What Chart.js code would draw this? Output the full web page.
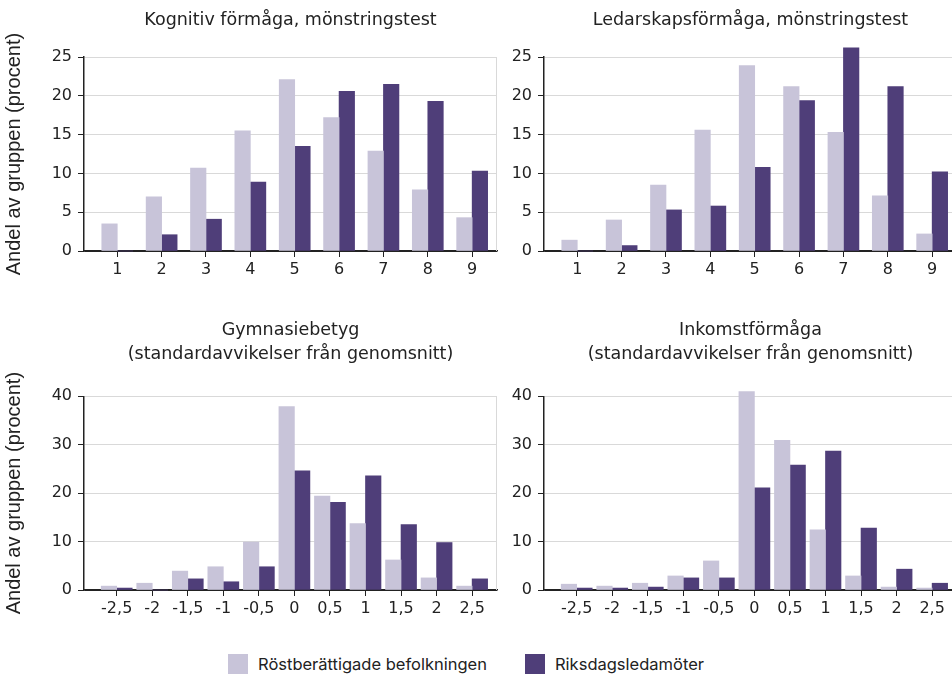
<!DOCTYPE html>
<html lang="sv">
<head>
  <meta charset="utf-8">
  <title>Riksdagsledamöter jämfört med befolkningen</title>
  <script src="https://cdn.jsdelivr.net/npm/chart.js"></script>
  <style>
    html, body {
      margin: 0;
      padding: 0;
      width: 952px;
      height: 676px;
      overflow: hidden;
      background: #fff;
    }
    .panel {
      position: absolute;
    }
    #legend {
      position: absolute;
      left: 228px;
      top: 654px;
      display: flex;
      gap: 38px;
      font: 16.5px Inter, sans-serif;
      color: #222;
      white-space: nowrap;
    }
    #legend .item {
      display: flex;
      align-items: center;
      gap: 10px;
      line-height: 20px;
    }
    #legend .swatch {
      width: 20px;
      height: 20px;
      display: inline-block;
    }
  </style>
</head>
<body>
  <div class="panel" style="left:0;top:0"><canvas id="kognitiv" width="500" height="290"></canvas></div>
  <div class="panel" style="left:460px;top:0"><canvas id="ledarskap" width="500" height="290"></canvas></div>
  <div class="panel" style="left:0;top:300px"><canvas id="gymnasie" width="500" height="330"></canvas></div>
  <div class="panel" style="left:460px;top:300px"><canvas id="inkomst" width="500" height="330"></canvas></div>
  <div id="legend"></div>
  <script>
    // kategorier på x-axeln
    const stanineCats = [1, 2, 3, 4, 5, 6, 7, 8, 9];
    const sdCats = [-2.5, -2, -1.5, -1, -0.5, 0, 0.5, 1, 1.5, 2, 2.5];

    const seriesNames = ['Röstberättigade befolkningen', 'Riksdagsledamöter'];
    const seriesColors = ['#c8c4d9', '#4f3e79'];

    // andel av gruppen (procent)
    const kognitivBef = [3.5, 7.0, 10.7, 15.5, 22.1, 17.2, 12.9, 7.9, 4.3];
    const kognitivRiks = [0, 2.1, 4.1, 8.9, 13.5, 20.6, 21.5, 19.3, 10.3];
    const ledarskapBef = [1.4, 4.0, 8.5, 15.6, 23.9, 21.2, 15.3, 7.1, 2.2];
    const ledarskapRiks = [0, 0.7, 5.3, 5.8, 10.8, 19.4, 26.2, 21.2, 10.2];
    const gymnasieBef = [0.8, 1.4, 3.9, 4.8, 9.9, 37.9, 19.4, 13.7, 6.2, 2.5, 0.8];
    const gymnasieRiks = [0.4, 0, 2.3, 1.7, 4.8, 24.6, 18.1, 23.6, 13.5, 9.8, 2.3];
    const inkomstBef = [1.2, 0.8, 1.4, 2.9, 6.0, 41.0, 30.9, 12.4, 2.9, 0.6, 0.4];
    const inkomstRiks = [0.4, 0.4, 0.6, 2.5, 2.5, 21.1, 25.8, 28.7, 12.8, 4.3, 1.4];

    const yTitle = 'Andel av gruppen (procent)';
    const ink = '#222';
    const gridGrey = '#d9d9d9';

    // tunn grå kant till höger om diagramytan
    const rightEdge = {
      id: 'rightEdge',
      beforeDatasetsDraw(chart) {
        const { ctx, chartArea } = chart;
        ctx.save();
        ctx.strokeStyle = gridGrey;
        ctx.lineWidth = 1;
        ctx.beginPath();
        ctx.moveTo(chartArea.right - 0.5, chartArea.top);
        ctx.lineTo(chartArea.right - 0.5, chartArea.bottom);
        ctx.stroke();
        ctx.restore();
      }
    };

    function drawPanel(id, title, cats, bef, riks, o) {
      const values = [bef, riks];
      new Chart(document.getElementById(id), {
        type: 'bar',
        data: {
          datasets: values.map((vals, k) => ({
            label: seriesNames[k],
            data: cats.map((c, i) => ({ x: c, y: vals[i] })),
            backgroundColor: seriesColors[k],
            barThickness: 15.5,
            clip: false
          }))
        },
        options: {
          responsive: false,
          animation: false,
          layout: { padding: { right: 3 } },
          plugins: {
            legend: { display: false },
            tooltip: { enabled: false },
            title: {
              display: true,
              text: title,
              fullSize: false,
              color: ink,
              font: { family: 'DejaVu Sans', size: 17.5, weight: 'normal', lineHeight: 1.38 },
              padding: { top: o.titleTop, bottom: o.titleBottom }
            }
          },
          scales: {
            x: {
              type: 'linear',
              min: o.xMin,
              max: o.xMax,
              offset: false,
              grid: { drawOnChartArea: false, offset: false, color: ink, tickColor: ink, tickLength: 6 },
              border: { color: ink, width: 1.5 },
              ticks: {
                stepSize: o.xStep,
                includeBounds: false,
                autoSkip: false,
                maxRotation: 0,
                padding: 3,
                color: ink,
                font: { family: 'DejaVu Sans', size: 16 },
                callback: v => String(v).replace('.', ',')
              },
              afterFit: s => { s.height = o.xHeight; }
            },
            y: {
              min: 0,
              max: o.yMax,
              grid: {
                color: c => (c.tick && c.tick.value === 0 ? ink : gridGrey),
                tickColor: ink,
                tickLength: 6
              },
              border: { color: ink, width: 1.5 },
              ticks: {
                stepSize: o.yStep,
                padding: 6,
                color: ink,
                font: { family: 'DejaVu Sans', size: 16 }
              },
              title: {
                display: o.showYTitle,
                text: yTitle,
                color: ink,
                font: { family: 'Liberation Sans', size: 20 },
                padding: { top: 2, bottom: 0 }
              },
              afterFit: s => { s.width = 84; }
            }
          }
        },
        plugins: [rightEdge]
      });
    }

    const topOpts = { titleTop: 8, titleBottom: 25, xMin: 0.25, xMax: 9.56, xStep: 1, xHeight: 39, yMax: 25, yStep: 5 };
    const bottomOpts = { titleTop: 18, titleBottom: 30, xMin: -2.96, xMax: 2.85, xStep: 0.5, xHeight: 40, yMax: 40, yStep: 10 };

    drawPanel('kognitiv', 'Kognitiv förmåga, mönstringstest', stanineCats, kognitivBef, kognitivRiks,
      Object.assign({ showYTitle: true }, topOpts));
    drawPanel('ledarskap', 'Ledarskapsförmåga, mönstringstest', stanineCats, ledarskapBef, ledarskapRiks,
      Object.assign({ showYTitle: false }, topOpts));
    drawPanel('gymnasie', ['Gymnasiebetyg', '(standardavvikelser från genomsnitt)'], sdCats, gymnasieBef, gymnasieRiks,
      Object.assign({ showYTitle: true }, bottomOpts));
    drawPanel('inkomst', ['Inkomstförmåga', '(standardavvikelser från genomsnitt)'], sdCats, inkomstBef, inkomstRiks,
      Object.assign({ showYTitle: false }, bottomOpts));

    // gemensam teckenförklaring
    const legend = document.getElementById('legend');
    seriesNames.forEach((name, k) => {
      const item = document.createElement('span');
      item.className = 'item';
      const sw = document.createElement('span');
      sw.className = 'swatch';
      sw.style.background = seriesColors[k];
      item.appendChild(sw);
      item.appendChild(document.createTextNode(name));
      legend.appendChild(item);
    });
  </script>
</body>
</html>
